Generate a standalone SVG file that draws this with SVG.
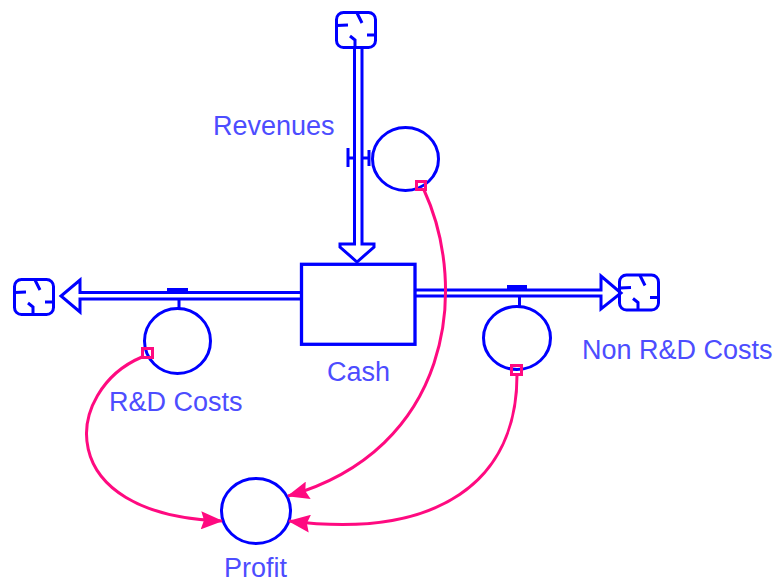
<svg xmlns="http://www.w3.org/2000/svg" width="773" height="584" viewBox="0 0 773 584">
  <style>
    .pipe { fill: none; stroke: #0000ff; stroke-width: 3; }
    .aux { fill: none; stroke: #0000ff; stroke-width: 3; }
    .stock { fill: #ffffff; stroke: #0000ff; stroke-width: 3.3; }
    .link { fill: none; stroke: #ff0a80; stroke-width: 3; }
    .tail { fill: none; stroke: #ff0a80; stroke-width: 3; }
    .label { font-family: "Liberation Sans", Arial, sans-serif; font-size: 27px; fill: #4d4dff; }
  </style>
  <defs>
    <!-- source / sink cloud -->
    <symbol id="cloud" viewBox="0 0 42 38" overflow="visible">
      <rect x="1.5" y="1.5" width="39" height="35" rx="7" fill="#ffffff" stroke="#0000ff" stroke-width="3"/>
      <path d="M22,2 L27,12 M2,14.5 L13,14 M15,25 L20,29 L20,36 M32,24 L40,24" fill="none" stroke="#0000ff" stroke-width="3"/>
    </symbol>
    <marker id="head" viewBox="0 0 22 18" refX="21" refY="9" markerWidth="22" markerHeight="18" markerUnits="userSpaceOnUse" orient="auto">
      <path d="M0,0 L22,9 L0,18 L3,9 z" fill="#ff0a80"/>
    </marker>
  </defs>

  <rect width="773" height="584" fill="#ffffff"/>

  <!-- flows: pipes, valves, clouds -->
  <g id="revenues-flow">
    <use href="#cloud" x="335" y="11" width="42" height="38"/>
    <path class="pipe" d="M354.5,49 V244 H340 V247 L357,262 L374,247 V244 H362 V49"/>
    <path class="pipe" d="M348,148 V167 M348,158 H354 M369,150 V166 M362,158 H369"/>
  </g>

  <g id="rd-flow">
    <use href="#cloud" x="13" y="278" width="42" height="38"/>
    <path class="pipe" d="M301,292.5 H80 V280 L61,296 L80,312 V299 H301"/>
    <rect x="167" y="288" width="21" height="4" fill="#0000ff"/>
    <path class="pipe" d="M179,300 V308"/>
  </g>

  <g id="nonrd-flow">
    <use href="#cloud" x="618" y="273" width="42" height="39"/>
    <path class="pipe" d="M415,290 H601 V276 L621,293 L601,309 V296 H415"/>
    <rect x="507" y="285" width="20" height="4" fill="#0000ff"/>
    <path class="pipe" d="M519.5,297 V306"/>
  </g>

  <!-- stock -->
  <g id="cash">
    <rect class="stock" x="301.5" y="264.3" width="113.5" height="80"/>
    <text class="label" x="327" y="381">Cash</text>
  </g>

  <!-- converters -->
  <g id="revenues">
    <ellipse class="aux" cx="405.5" cy="159" rx="33" ry="31.5"/>
    <text class="label" x="213" y="135">Revenues</text>
  </g>
  <g id="rd-costs">
    <ellipse class="aux" cx="177.5" cy="341" rx="33" ry="32.5"/>
    <text class="label" x="109" y="411">R&amp;D Costs</text>
  </g>
  <g id="nonrd-costs">
    <ellipse class="aux" cx="517" cy="338" rx="33.5" ry="31.5"/>
    <text class="label" x="582" y="359">Non R&amp;D Costs</text>
  </g>
  <g id="profit">
    <ellipse class="aux" cx="256" cy="511" rx="34.5" ry="32.5"/>
    <text class="label" x="224" y="577">Profit</text>
  </g>

  <!-- information links -->
  <g id="connectors">
    <rect class="tail" x="416.5" y="181.5" width="9" height="8"/>
    <path class="link" d="M424,190 C470,290 450,450 288,496" marker-end="url(#head)"/>
    <rect class="tail" x="511.5" y="365.5" width="10" height="9"/>
    <path class="link" d="M517,375 C517,480 440,540 289,521" marker-end="url(#head)"/>
    <rect class="tail" x="142.5" y="348.5" width="10" height="9"/>
    <path class="link" d="M142,357 C64,390 50,515 222,521" marker-end="url(#head)"/>
  </g>
</svg>
